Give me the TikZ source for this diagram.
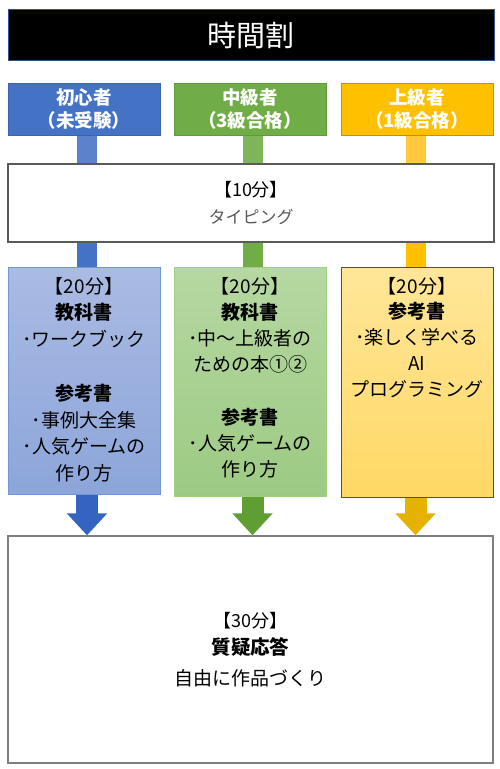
\documentclass[tikz,border=0pt]{standalone}
\usepackage{fontspec}
\setmainfont{Noto Sans CJK JP}
\usetikzlibrary{arrows.meta,backgrounds}
\definecolor{lvblue}{HTML}{4472C4}
\definecolor{lvblueD}{HTML}{3A64B2}
\definecolor{lvgreen}{HTML}{70AD47}
\definecolor{lvgreenD}{HTML}{5F9A3A}
\definecolor{lvyellow}{HTML}{FFC000}
\definecolor{lvyellowD}{HTML}{C29200}
\definecolor{barblue}{HTML}{5B82CB}
\definecolor{bargreen}{HTML}{7EB45A}
\definecolor{baryellow}{HTML}{FFC83D}
\definecolor{shBlueT}{HTML}{AABBE3}
\definecolor{shBlueB}{HTML}{8CA5DA}
\definecolor{shBlueD}{HTML}{7296DA}
\definecolor{shGreenT}{HTML}{B6D8A2}
\definecolor{shGreenB}{HTML}{9CCA83}
\definecolor{shGreenD}{HTML}{9DCF7E}
\definecolor{shYelT}{HTML}{FFE699}
\definecolor{shYelB}{HTML}{FFD865}
\definecolor{shYelD}{HTML}{55503C}
\definecolor{arBlue}{HTML}{3364C2}
\definecolor{arGreen}{HTML}{5E9E33}
\definecolor{arYellow}{HTML}{E6B200}
\definecolor{titleD}{HTML}{2F528F}
\definecolor{greyA}{HTML}{5A5A5A}
\definecolor{greyB}{HTML}{7F7F7F}
\definecolor{txtgrey}{HTML}{595959}
\tikzset{
  titlebox/.style={fill=black, draw=titleD, line width=1pt, text=white, inner sep=0pt,
    minimum width=486pt, minimum height=51pt, font=\fontsize{29}{32}\selectfont},
  lvbox/.style={inner sep=0pt, minimum width=152pt, minimum height=52pt, line width=1pt,
    text=white, align=center, font=\bfseries\fontsize{18.5}{22.5}\selectfont},
  widebox/.style={fill=white, inner sep=0pt, line width=1.3pt},
  tmbox/.style={inner sep=0pt, line width=1pt},
  barline/.style={line width=20pt, line cap=butt},
  bigarrow/.style={line width=22pt, line cap=butt, -{Triangle[width=39pt,length=22pt]}}
}
\newcommand{\tmtext}[3]{\parbox[c][#1][t]{152pt}{\centering\fontsize{19}{#2}\selectfont\vspace*{10pt}#3}}
\begin{document}
\begin{tikzpicture}[x=1pt,y=-1pt]
\useasboundingbox (0,0) rectangle (500,769);
% title
\node[titlebox] (title) at (251,35) {時間割};
% level boxes
\node[lvbox, fill=lvblue, draw=lvblueD] (lv1) at (84,109) {\raisebox{-2pt}{\parbox{150pt}{\centering 初心者\\（未受験）}}};
\node[lvbox, fill=lvgreen, draw=lvgreenD] (lv2) at (250,109) {\raisebox{-2pt}{\parbox{150pt}{\centering 中級者\\（3級合格）}}};
\node[lvbox, fill=lvyellow, draw=lvyellowD] (lv3) at (417,109) {\raisebox{-2pt}{\parbox{150pt}{\centering 上級者\\（1級合格）}}};
% 10 min
\node[widebox, draw=greyA, minimum width=486pt, minimum height=78pt, align=center] (ty) at (251,203)
  {\fontsize{18}{20}\selectfont 【10分】\\[11pt]{\color{txtgrey}\fontsize{17}{19}\selectfont タイピング}};
% 20 min boxes
\node[tmbox, top color=shBlueT, bottom color=shBlueB, draw=shBlueD] (tm1) at (84,380.5)
  {\tmtext{227pt}{26.8}{【20分】\\\textbf{教科書}\\･ワークブック\\\mbox{}\\\textbf{参考書}\\･事例大全集\\･人気ゲームの\\作り方}};
\node[tmbox, top color=shGreenT, bottom color=shGreenB, draw=shGreenD] (tm2) at (250,381.5)
  {\tmtext{229pt}{26.2}{【20分】\\\textbf{教科書}\\･中～上級者の\\ための本①②\\\mbox{}\\\textbf{参考書}\\･人気ゲームの\\作り方}};
\node[tmbox, top color=shYelT, bottom color=shYelB, draw=shYelD] (tm3) at (417,382)
  {\tmtext{230pt}{25.8}{【20分】\\\textbf{参考書}\\･楽しく学べる\\AI\\プログラミング}};
% 30 min
\node[widebox, draw=greyB, minimum width=485pt, minimum height=227pt] (qa) at (250.5,649.5)
  {\raisebox{-2pt}{\parbox{300pt}{\centering\fontsize{18}{20}\selectfont 【30分】\par
   \fontsize{19.5}{27}\selectfont\bfseries 質疑応答\par
   \mdseries\fontsize{19}{31}\selectfont 自由に作品づくり\par}}};
% bars
\begin{scope}[on background layer]
\draw[barline, barblue] ([xshift=3pt]lv1.south) -- ([xshift=3pt]ty.north -| lv1.south);
\draw[barline, bargreen] ([xshift=2.5pt]lv2.south) -- ([xshift=2.5pt]ty.north -| lv2.south);
\draw[barline, baryellow] ([xshift=-1.5pt]lv3.south) -- ([xshift=-1.5pt]ty.north -| lv3.south);
\draw[barline, lvblue] ([xshift=3pt]ty.south -| lv1.south) -- ([xshift=3pt]tm1.north);
\draw[barline, lvgreen] ([xshift=2.5pt]ty.south -| lv2.south) -- ([xshift=2.5pt]tm2.north);
\draw[barline, lvyellow] ([xshift=-1.5pt]ty.south -| lv3.south) -- ([xshift=-1.5pt]tm3.north);
\end{scope}
% arrows
\draw[bigarrow, arBlue] ([xshift=3pt]tm1.south) -- ([xshift=3pt]qa.north -| tm1.south);
\draw[bigarrow, arGreen] ([xshift=2.5pt]tm2.south) -- ([xshift=2.5pt]qa.north -| tm2.south);
\draw[bigarrow, arYellow] ([xshift=-1.5pt]tm3.south) -- ([xshift=-1.5pt]qa.north -| tm3.south);
\end{tikzpicture}
\end{document}
